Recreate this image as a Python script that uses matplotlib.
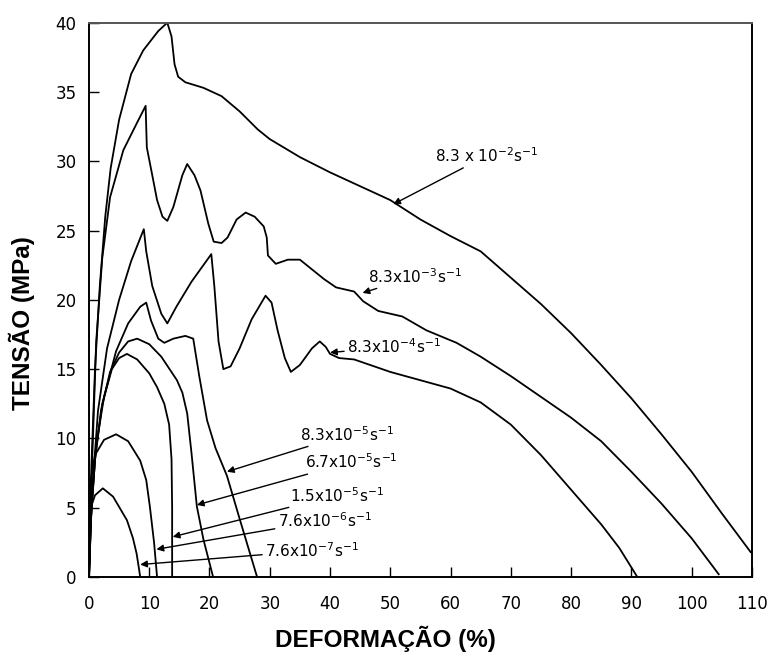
import numpy as np
import matplotlib.pyplot as plt

# strain (%) / stress (MPa), one pair per strain rate
x_a = [0, 0.4, 1, 1.8, 2.7, 3.6, 5, 7, 9, 11.5, 13, 13.7, 14.2, 14.8, 16, 19, 22, 25, 28, 30,
       35, 40, 45, 50, 55, 60, 65, 70, 75, 80, 85, 90, 95, 100, 105, 109.8]
y_a = [0, 8, 15, 21, 26, 29.5, 33, 36.3, 38, 39.4, 40, 39, 37, 36.1, 35.7, 35.3, 34.7, 33.6, 32.3, 31.6,
       30.3, 29.2, 28.2, 27.2, 25.8, 24.6, 23.5, 21.6, 19.7, 17.6, 15.3, 12.9, 10.3, 7.6, 4.6, 1.8]

x_b = [0, 0.5, 1.2, 2.2, 3.5, 5.7, 8, 9.4, 9.6, 10.5, 11.3, 12.2, 13, 14, 15.5, 16.3, 17.5, 18.5,
       19.8, 20.7, 22, 23, 24.5, 26, 27.5, 29, 29.5, 29.7, 31, 33, 35, 37, 39, 41, 43, 44, 45.5,
       48, 52, 56, 61, 65, 70, 75, 80, 85, 90, 95, 100, 104.5]
y_b = [0, 8, 17, 23, 27.4, 30.8, 32.8, 34, 31, 29, 27.2, 26, 25.7, 26.7, 29, 29.8, 29, 27.9,
       25.5, 24.2, 24.1, 24.5, 25.8, 26.3, 26, 25.3, 24.5, 23.2, 22.6, 22.9, 22.9, 22.2, 21.5, 20.9,
       20.7, 20.6, 19.9, 19.2, 18.8, 17.8, 16.9, 15.9, 14.5, 13, 11.5, 9.8, 7.6, 5.3, 2.8, 0.2]

x_c = [0, 0.5, 1.5, 3, 5, 7, 9.1, 9.5, 10.5, 12, 13, 14.5, 17, 20.3, 20.8, 21.5, 22.3, 23.5, 25,
       27, 29.3, 30.3, 31.3, 32.5, 33.5, 35, 37, 38.3, 39.3, 40, 41.5, 44, 46, 50, 55, 60, 65, 70,
       75, 80, 85, 88, 91]
y_c = [0, 6, 12, 16.5, 20, 22.8, 25.1, 23.5, 21, 19, 18.3, 19.5, 21.3, 23.3, 21, 17, 15, 15.2, 16.5,
       18.6, 20.3, 19.8, 17.8, 15.8, 14.8, 15.3, 16.5, 17, 16.6, 16.1, 15.8, 15.7, 15.4, 14.8, 14.2,
       13.6, 12.6, 11, 8.8, 6.3, 3.8, 2.1, 0]

x_d = [0, 0.4, 1.2, 2.5, 4.5, 6.5, 8.5, 9.5, 10.3, 11.5, 12.5, 14, 16, 17.3, 18.3, 19.6, 21, 22.9,
       25, 27, 27.9]
y_d = [0, 5, 9.5, 13, 16.3, 18.3, 19.5, 19.8, 18.5, 17.2, 16.9, 17.2, 17.4, 17.2, 14.5, 11.3, 9.3,
       7.3, 4.2, 1.3, 0]

x_e = [0, 0.3, 1, 2, 3.5, 5, 6.5, 8, 10, 12, 14.6, 15.5, 16.3, 17, 17.9, 19, 20.6]
y_e = [0, 4, 8.5, 12, 14.8, 16.2, 17, 17.2, 16.8, 15.9, 14.2, 13.3, 11.8, 9, 5.1, 2.7, 0]

x_f = [0, 0.3, 1, 2.2, 3.8, 5, 6.3, 8, 10, 11.3, 12.5, 13.3, 13.7, 13.8, 13.8]
y_f = [0, 4, 8.5, 12.5, 15, 15.8, 16.1, 15.7, 14.7, 13.7, 12.5, 11, 8.5, 5, 0]

x_g = [0, 0.1, 0.3, 1, 2.5, 4.5, 6.5, 8.5, 9.5, 10.1, 10.8, 11.3]
y_g = [0, 4, 7, 8.8, 9.9, 10.3, 9.8, 8.4, 7, 5.1, 2.5, 0]

x_h = [0, 0.1, 0.3, 1, 2.3, 4, 6.3, 7.3, 7.9, 8.3, 8.5]
y_h = [0, 3, 5, 5.9, 6.4, 5.8, 4.1, 2.8, 1.7, 0.6, 0]

rate_labels = [r'8.3 x 10$^{-2}$s$^{-1}$', r'8.3x10$^{-3}$s$^{-1}$', r'8.3x10$^{-4}$s$^{-1}$',
               r'8.3x10$^{-5}$s$^{-1}$', r'6.7x10$^{-5}$s$^{-1}$', r'1.5x10$^{-5}$s$^{-1}$',
               r'7.6x10$^{-6}$s$^{-1}$', r'7.6x10$^{-7}$s$^{-1}$']
# where each arrow touches its curve, and where its label sits
tip_x = [50.5, 45.4, 40.0, 22.9, 17.9, 13.9, 11.2, 8.5]
tip_y = [26.9, 20.5, 16.2, 7.6, 5.2, 2.9, 2.0, 0.9]
txt_x = [57.4, 46.3, 42.8, 35.0, 35.8, 33.3, 31.3, 29.2]
txt_y = [30.4, 21.7, 16.6, 10.3, 8.3, 5.9, 4.1, 1.9]

curves = [(x_a, y_a), (x_b, y_b), (x_c, y_c), (x_d, y_d),
          (x_e, y_e), (x_f, y_f), (x_g, y_g), (x_h, y_h)]

fig = plt.figure(figsize=(7.69, 6.56), dpi=100)
ax = fig.add_axes([0.1157, 0.1204, 0.862, 0.845])

for xs, ys in curves:
    ax.plot(xs, ys, color='black', lw=1.3, solid_joinstyle='round')

for i in range(len(rate_labels)):
    ax.annotate(rate_labels[i], xy=(tip_x[i], tip_y[i]), xytext=(txt_x[i], txt_y[i]),
                fontsize=11, va='center', ha='left',
                arrowprops=dict(arrowstyle='-|>', color='black', lw=1.0,
                                mutation_scale=10, shrinkA=0, shrinkB=0))

ax.set_xlim(0, 110)
ax.set_ylim(0, 40)
ax.set_xticks(np.arange(0, 111, 10))
ax.set_yticks(np.arange(0, 41, 5))
ax.tick_params(direction='in', length=7, width=1.0, labelsize=12, top=False, right=False)
ax.tick_params(axis='x', pad=13)
ax.tick_params(axis='y', pad=9)
for s in ax.spines.values():
    s.set_linewidth(1.4)
ax.spines['top'].set_color('#555555')

ax.set_xlabel('DEFORMAÇÃO (%)', fontsize=17.5, fontweight='bold', family='Liberation Sans')
ax.set_ylabel('TENSÃO (MPa)', fontsize=17.5, fontweight='bold', family='Liberation Sans')
ax.xaxis.set_label_coords(0.447, -0.088)
ax.yaxis.set_label_coords(-0.082, 0.458)

plt.savefig('out.png', dpi=100)
